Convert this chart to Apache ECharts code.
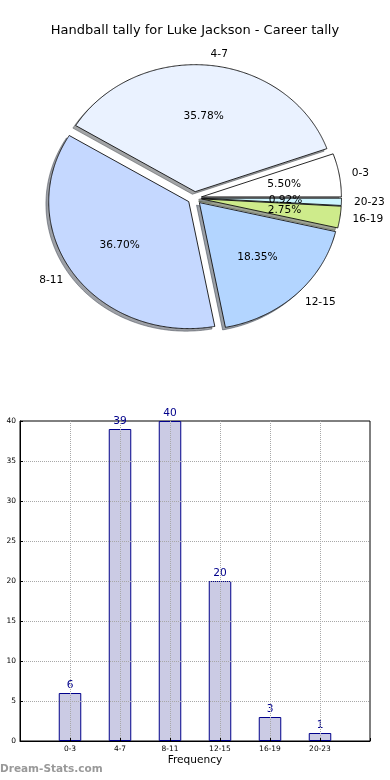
<!DOCTYPE html>
<html><head><meta charset="utf-8">
<script src="https://cdn.jsdelivr.net/npm/echarts@6/dist/echarts.min.js"></script>
<style>html,body{margin:0;padding:0;background:#fff}#c{width:390px;height:780px}</style>
</head><body><div id="c"></div>
<script>
// ---- data ----
const titleText = 'Handball tally for Luke Jackson - Career tally';
const categories = ['0-3', '4-7', '8-11', '12-15', '16-19', '20-23'];
const counts = [6, 39, 40, 20, 3, 1];
const sliceColors = ['#ffffff', '#eaf2ff', '#c5d8ff', '#b3d5ff', '#ceeb8b', '#ccf5ff'];
const explode = [0.05, 0.05, 0.05, 0.05, 0.05, 0.05];
const xAxisName = 'Frequency';
const watermark = 'Dream-Stats.com';

// ---- pie geometry (data space: unit ellipse on a hidden cartesian grid) ----
const total = counts.reduce((a, b) => a + b, 0);
const cum = [];
let acc = 0;
counts.forEach(v => { cum.push(acc); acc += v; });
function angles(i) {
  const a0 = cum[i] / total * 2 * Math.PI;
  const a1 = (cum[i] + counts[i]) / total * 2 * Math.PI;
  return [a0, a1, (a0 + a1) / 2];
}
function wedgePoints(api, i, dx, dy) {
  const [a0, a1, am] = angles(i);
  const cx = explode[i] * Math.cos(am) + dx, cy = explode[i] * Math.sin(am) + dy;
  const pts = [api.coord([cx, cy])];
  const n = Math.max(2, Math.ceil((a1 - a0) / (Math.PI / 360)));
  for (let k = 0; k <= n; k++) {
    const t = a0 + (a1 - a0) * k / n;
    pts.push(api.coord([cx + Math.cos(t), cy + Math.sin(t)]));
  }
  return pts;
}
function shade(hex) {
  const r = parseInt(hex.slice(1, 3), 16), g = parseInt(hex.slice(3, 5), 16), b = parseInt(hex.slice(5, 7), 16);
  return 'rgba(' + Math.round(r * 0.3) + ',' + Math.round(g * 0.3) + ',' + Math.round(b * 0.3) + ',0.5)';
}
const pieData = counts.map((v, i) => [i, v]);
const FONT = '"DejaVu Sans", sans-serif';
const LABEL_DIST = 1.09, PCT_DIST = 0.6;

const chart = echarts.init(document.getElementById('c'), null, { renderer: 'canvas' });
chart.setOption({
  animation: false,
  backgroundColor: '#ffffff',
  textStyle: { fontFamily: FONT },
  title: {
    text: titleText, left: 'center', top: 19,
    textStyle: { fontSize: 13, fontWeight: 'normal', color: '#000', fontFamily: FONT }
  },
  graphic: [{
    type: 'text', left: 0, top: 764,
    style: { text: watermark, fill: '#999', font: 'bold 10.5px ' + FONT }
  }],
  grid: [
    { left: 54.5, top: 71, width: 280, height: 254, show: false },
    { left: 20, right: 20, top: 421, bottom: 39, show: true, borderColor: '#000', borderWidth: 1, backgroundColor: 'transparent' }
  ],
  xAxis: [
    { type: 'value', gridIndex: 0, min: -1, max: 1, show: false },
    {
      type: 'value', gridIndex: 1, min: 0, max: 7, interval: 1, z: 5,
      axisLine: { show: true, lineStyle: { color: '#000', width: 1 } },
      axisTick: { show: true, inside: true, length: 3, lineStyle: { color: '#000' } },
      axisLabel: { color: '#000', fontSize: 7.5, margin: 4, formatter: v => categories[v - 1] || '' },
      splitLine: { show: true, showMinLine: false, showMaxLine: false, lineStyle: { color: '#a8a8a8', type: 'dotted', width: 1 } },
      name: xAxisName, nameLocation: 'middle', nameGap: 14,
      nameTextStyle: { color: '#000', fontSize: 10.6, fontFamily: FONT }
    }
  ],
  yAxis: [
    { type: 'value', gridIndex: 0, min: -1, max: 1, show: false },
    {
      type: 'value', gridIndex: 1, min: 0, max: 40, interval: 5, z: 5,
      axisLine: { show: true, lineStyle: { color: '#000', width: 1 } },
      axisTick: { show: true, inside: true, length: 3, lineStyle: { color: '#000' } },
      axisLabel: { color: '#000', fontSize: 7.5, margin: 4 },
      splitLine: { show: true, showMinLine: false, showMaxLine: false, lineStyle: { color: '#a8a8a8', type: 'dotted', width: 1 } }
    }
  ],
  series: [
    {
      type: 'custom', name: 'shadow', coordinateSystem: 'cartesian2d', xAxisIndex: 0, yAxisIndex: 0,
      z: 1, silent: true, clip: false, data: pieData,
      renderItem: (params, api) => {
        const i = params.dataIndex;
        return { type: 'polygon', shape: { points: wedgePoints(api, i, -0.02, -0.02) },
          style: { fill: shade(sliceColors[i]), stroke: shade(sliceColors[i]), lineWidth: 1 } };
      }
    },
    {
      type: 'custom', name: 'wedges', coordinateSystem: 'cartesian2d', xAxisIndex: 0, yAxisIndex: 0,
      z: 2, silent: true, clip: false, data: pieData,
      renderItem: (params, api) => {
        const i = params.dataIndex;
        return { type: 'polygon', shape: { points: wedgePoints(api, i, 0, 0) },
          style: { fill: sliceColors[i], stroke: '#111', lineWidth: 0.9, lineJoin: 'miter' } };
      }
    },
    {
      type: 'custom', name: 'labels', coordinateSystem: 'cartesian2d', xAxisIndex: 0, yAxisIndex: 0,
      z: 3, silent: true, clip: false, data: pieData,
      renderItem: (params, api) => {
        const i = params.dataIndex;
        const [, , am] = angles(i);
        const cx = explode[i] * Math.cos(am), cy = explode[i] * Math.sin(am);
        const lx = cx + LABEL_DIST * Math.cos(am), ly = cy + LABEL_DIST * Math.sin(am);
        const px = cx + PCT_DIST * Math.cos(am), py = cy + PCT_DIST * Math.sin(am);
        const lp = api.coord([lx, ly]), pp = api.coord([px, py]);
        const pct = (counts[i] / total * 100).toFixed(2) + '%';
        return { type: 'group', children: [
          { type: 'text', x: lp[0], y: lp[1], style: { text: categories[i], fill: '#000', font: '10.6px ' + FONT,
            align: lx > 0 ? 'left' : 'right', verticalAlign: 'middle' } },
          { type: 'text', x: pp[0], y: pp[1], style: { text: pct, fill: '#000', font: '10.6px ' + FONT,
            align: 'center', verticalAlign: 'middle' } }
        ] };
      }
    },
    {
      type: 'bar', xAxisIndex: 1, yAxisIndex: 1, barWidth: 22.5, z: 2,
      data: counts.map((v, i) => [i + 1, v]),
      itemStyle: { color: '#cbcbe4', borderColor: '#00008b', borderWidth: 1 },
      label: { show: true, position: 'top', distance: 2, color: '#00008b', fontSize: 10.6, fontFamily: FONT,
        formatter: p => String(p.value[1]) }
    }
  ]
});
</script></body></html>
